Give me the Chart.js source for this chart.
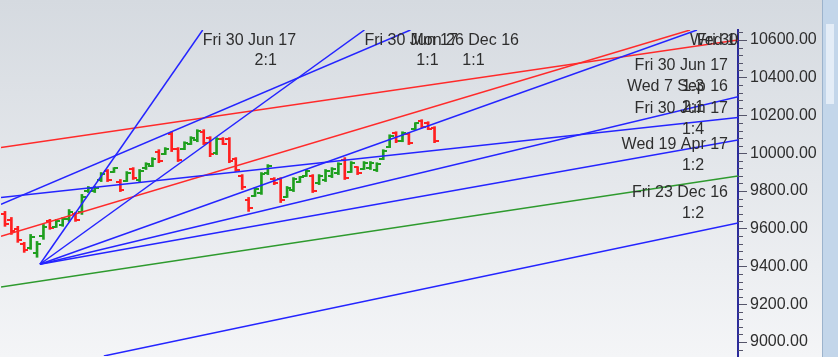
<!DOCTYPE html>
<html>
<head>
<meta charset="utf-8">
<script src="https://cdn.jsdelivr.net/npm/chart.js@4.4.1/dist/chart.umd.min.js"></script>
<style>
  html, body { margin: 0; padding: 0; }
  body {
    width: 838px; height: 357px; overflow: hidden; position: relative;
    background: linear-gradient(#d5dae0, #f4f5f7);
  }
  #chart { display: block; }
  /* scroll strip on the right edge */
  #scroll { position: absolute; left: 822px; top: 0; width: 16px; height: 357px; background: #c3d6ea; border-left: 1px solid #9cb3cc; }
  #thumb { position: absolute; left: 3px; top: 24px; width: 8px; height: 80px; background: #e4edf7; }
</style>
</head>
<body>
<canvas id="chart" width="838" height="357"></canvas>
<div id="scroll"><div id="thumb"></div></div>
<script>
// --- OHLC bars (one per session) ---
const barHigh  = [9692, 9660, 9613, 9528, 9570, 9533, 9623, 9650, 9650, 9660, 9702, 9687, 9782, 9824, 9824, 9898, 9914, 9924,
                  9861, 9903, 9924, 9914, 9950, 9977, 10019, 10030, 10114, 10030, 10061, 10088, 10125, 10125, 10088, 10083, 10083, 10083,
                  9977, 9887, 9766, 9819, 9898, 9940, 9871, 9871, 9824, 9871, 9877, 9914, 9887, 9887, 9914, 9924, 9950, 9977, 9956, 9929,
                  9956, 9956, 9950, 10019, 10098, 10114, 10114, 10109, 10162, 10178, 10167, 10141];
const barLow   = [9613, 9570, 9528, 9475, 9491, 9449, 9544, 9597, 9607, 9613, 9639, 9639, 9676, 9792, 9792, 9850, 9850, 9898,
                  9797, 9850, 9861, 9845, 9914, 9929, 9950, 9993, 10009, 9956, 10019, 10046, 10061, 10046, 9982, 9993, 10046, 9950,
                  9903, 9808, 9692, 9771, 9782, 9887, 9834, 9739, 9766, 9797, 9845, 9877, 9792, 9834, 9850, 9871, 9887, 9861, 9898, 9887,
                  9914, 9914, 9903, 9966, 10030, 10056, 10061, 10046, 10125, 10135, 10125, 10056];
const barOpen  = [9680, 9645, 9600, 9520, 9500, 9470, 9560, 9640, 9612, 9620, 9650, 9680, 9690, 9800, 9798, 9860, 9905, 9902,
                  9850, 9855, 9915, 9860, 9920, 9935, 10005, 9998, 10100, 10020, 10025, 10050, 10070, 10115, 10080, 10000, 10078, 10075,
                  9970, 9880, 9755, 9775, 9790, 9895, 9865, 9862, 9770, 9805, 9850, 9880, 9880, 9840, 9858, 9878, 9895, 9965, 9902, 9925,
                  9918, 9920, 9910, 9970, 10035, 10108, 10066, 10100, 10130, 10172, 10160, 10135];
const barClose = [9625, 9590, 9540, 9485, 9555, 9520, 9610, 9605, 9640, 9650, 9690, 9645, 9770, 9815, 9818, 9890, 9860, 9920,
                  9805, 9895, 9870, 9905, 9945, 9970, 9960, 10025, 10020, 9965, 10055, 10082, 10118, 10055, 9995, 10075, 10050, 9960,
                  9910, 9820, 9710, 9810, 9890, 9932, 9840, 9755, 9815, 9865, 9872, 9908, 9800, 9880, 9905, 9918, 9945, 9870, 9950, 9895,
                  9950, 9950, 9945, 10012, 10090, 10065, 10108, 10055, 10158, 10140, 10130, 10065];

// --- Gann fan / trend lines: start and end points (bar index, price) ---
const lineNames  = ['Fri 30 Jun 17', 'Fri 30 Jun 17', 'Fri 30 Jun 17', 'Fri 30 Jun 17', 'Fri 30 Jun 17',
                    'Mon 26 Dec 16', 'Wed 7 Sep 16', 'Wed 19 Apr 17', 'Fri 23 Dec 16', 'Wed 19 Apr 17', ''];
const lineRatios = ['2:1', '1:1', '1:2', '1:3', '1:4', '1:1', '2:1', '1:2', '1:2', '1:1', ''];
const lineStartX = [5.45, 5.45, 5.45, 5.45, 5.45, -0.62, -0.62, -0.62, 15.42, -0.62, -0.62];
const lineStartY = [9412, 9412, 9412, 9412, 9412, 9729, 9766, 9291, 8926, 9560, 10030];
const lineEndX   = [30.84, 56.07, 107.94, 114.33, 114.33, 63.24, 114.33, 114.33, 114.33, 106.85, 114.33];
const lineEndY   = [10653, 10653, 10653, 10300, 10070, 10653, 10190, 9880, 9630, 10653, 10600];

const BLUE = '#2424ff', RED = '#ff2a2a', GREEN = '#2e9a2e';
const lineColors = [BLUE, BLUE, BLUE, BLUE, BLUE, BLUE, BLUE, GREEN, BLUE, RED, RED];
const UP = '#1f9f1f', DOWN = '#ff2020';

const isUp = i => barClose[i] >= barOpen[i];

// little tick images for open (left) and close (right)
function tickImg(color, left) {
  const c = document.createElement('canvas');
  c.width = 8; c.height = 2;
  const g = c.getContext('2d');
  g.fillStyle = color;
  g.fillRect(left ? 0 : 4, 0, 4, 2);
  return c;
}
const openUp = tickImg(UP, true), openDown = tickImg(DOWN, true);
const closeUp = tickImg(UP, false), closeDown = tickImg(DOWN, false);

const lineSets = lineNames.map((n, i) => ({
  type: 'line',
  data: [{ x: lineStartX[i], y: lineStartY[i] }, { x: lineEndX[i], y: lineEndY[i] }],
  borderColor: lineColors[i],
  borderWidth: 1.5,
  pointRadius: 0,
  pointHoverRadius: 0,
  pointBorderWidth: 0,
  fill: false,
  order: 0
}));

// keep point sizes tiny so Chart.js doesn't pad the plot area
const tickPoint = { pointRadius: 1, pointHoverRadius: 1, pointBorderWidth: 0, pointHoverBorderWidth: 0 };

// minor ticks every 40 points on the price axis
const minorTicks = {
  id: 'minorTicks',
  afterDraw(chart) {
    const { ctx, chartArea: a, scales: { y } } = chart;
    ctx.save();
    ctx.strokeStyle = '#55556a';
    ctx.lineWidth = 1;
    ctx.beginPath();
    for (let v = Math.ceil(y.min / 40) * 40; v <= y.max; v += 40) {
      if (v % 200 === 0) continue;
      const py = Math.round(y.getPixelForValue(v)) + 0.5;
      ctx.moveTo(a.right, py);
      ctx.lineTo(a.right + 5, py);
    }
    ctx.stroke();
    ctx.restore();
  }
};

// date / ratio captions at the end of each fan line
const fanLabels = {
  id: 'fanLabels',
  afterDatasetsDraw(chart) {
    const { ctx, chartArea: a, scales: { x, y } } = chart;
    ctx.save();
    ctx.beginPath();
    ctx.rect(a.left, a.top, a.right - a.left, a.bottom - a.top);
    ctx.clip();
    ctx.font = '16px "Liberation Sans", Arial, sans-serif';
    ctx.fillStyle = '#2e2e2e';
    ctx.textBaseline = 'middle';
    lineNames.forEach((name, i) => {
      if (!name) return;
      const ex = x.getPixelForValue(lineEndX[i]);
      const ey = y.getPixelForValue(lineEndY[i]);
      if (ey <= a.top + 1) {
        ctx.textAlign = 'left';
        ctx.fillText(name, ex, a.top + 11);
        ctx.textAlign = 'center';
        ctx.fillText(lineRatios[i], ex + 63, a.top + 31);
      } else {
        ctx.textAlign = 'right';
        ctx.fillText(name, a.right - 10, ey - 31);
        ctx.textAlign = 'center';
        ctx.fillText(lineRatios[i], a.right - 45, ey - 10);
      }
    });
    ctx.restore();
  }
};

new Chart(document.getElementById('chart').getContext('2d'), {
  type: 'bar',
  data: {
    datasets: [
      ...lineSets,
      {
        type: 'scatter',
        data: barOpen.map((v, i) => ({ x: i, y: v })),
        pointStyle: c => isUp(c.dataIndex) ? openUp : openDown,
        ...tickPoint,
        order: 1
      },
      {
        type: 'scatter',
        data: barClose.map((v, i) => ({ x: i, y: v })),
        pointStyle: c => isUp(c.dataIndex) ? closeUp : closeDown,
        ...tickPoint,
        order: 1
      },
      {
        type: 'bar',
        data: barHigh.map((h, i) => ({ x: i, y: [barLow[i], h] })),
        backgroundColor: barHigh.map((h, i) => isUp(i) ? UP : DOWN),
        borderWidth: 0,
        barThickness: 2,
        order: 2
      }
    ]
  },
  options: {
    responsive: false,
    animation: false,
    events: [],
    layout: { padding: { top: 30, right: 15, left: 0, bottom: 0 } },
    plugins: { legend: { display: false }, tooltip: { enabled: false } },
    scales: {
      x: { type: 'linear', offset: false, min: -0.62, max: 114.33, display: false },
      y: {
        position: 'right',
        min: 8926,
        max: 10653,
        afterFit: s => { s.width = 85; s.paddingTop = 0; s.paddingBottom = 0; },
        border: { color: '#2b2b9a', width: 2 },
        grid: { drawOnChartArea: false, tickLength: 9, tickColor: '#55556a', tickWidth: 1 },
        ticks: {
          stepSize: 200,
          includeBounds: false,
          padding: 3,
          color: '#2e2e2e',
          font: { family: '"Liberation Sans", Arial, sans-serif', size: 16 },
          callback: v => v.toFixed(2)
        }
      }
    }
  },
  plugins: [minorTicks, fanLabels]
});
</script>
</body>
</html>
